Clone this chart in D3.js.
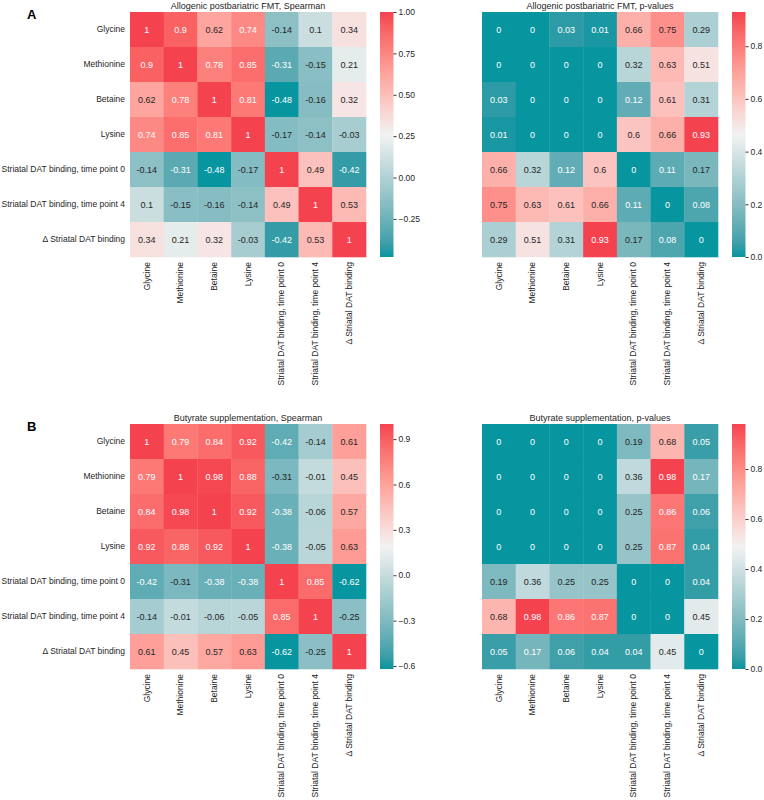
<!DOCTYPE html>
<html>
<head>
<meta charset="utf-8">
<script src="https://cdn.jsdelivr.net/npm/d3@7"></script>
<style>
  body { margin: 0; background: #fff; }
  text { font-family: "Liberation Sans", Arial, sans-serif; }
</style>
</head>
<body>
<div id="chart"></div>
<script>
// variable names, same order for rows and columns
const labels = [
  "Glycine", "Methionine", "Betaine", "Lysine",
  "Striatal DAT binding, time point 0",
  "Striatal DAT binding, time point 4",
  "\u0394 Striatal DAT binding"
];

// A: allogenic postbariatric FMT
const corrA = [
  [1, 0.9, 0.62, 0.74, -0.14, 0.1, 0.34],
  [0.9, 1, 0.78, 0.85, -0.31, -0.15, 0.21],
  [0.62, 0.78, 1, 0.81, -0.48, -0.16, 0.32],
  [0.74, 0.85, 0.81, 1, -0.17, -0.14, -0.03],
  [-0.14, -0.31, -0.48, -0.17, 1, 0.49, -0.42],
  [0.1, -0.15, -0.16, -0.14, 0.49, 1, 0.53],
  [0.34, 0.21, 0.32, -0.03, -0.42, 0.53, 1]
];
const pA = [
  [0, 0, 0.03, 0.01, 0.66, 0.75, 0.29],
  [0, 0, 0, 0, 0.32, 0.63, 0.51],
  [0.03, 0, 0, 0, 0.12, 0.61, 0.31],
  [0.01, 0, 0, 0, 0.6, 0.66, 0.93],
  [0.66, 0.32, 0.12, 0.6, 0, 0.11, 0.17],
  [0.75, 0.63, 0.61, 0.66, 0.11, 0, 0.08],
  [0.29, 0.51, 0.31, 0.93, 0.17, 0.08, 0]
];

// B: butyrate supplementation
const corrB = [
  [1, 0.79, 0.84, 0.92, -0.42, -0.14, 0.61],
  [0.79, 1, 0.98, 0.88, -0.31, -0.01, 0.45],
  [0.84, 0.98, 1, 0.92, -0.38, -0.06, 0.57],
  [0.92, 0.88, 0.92, 1, -0.38, -0.05, 0.63],
  [-0.42, -0.31, -0.38, -0.38, 1, 0.85, -0.62],
  [-0.14, -0.01, -0.06, -0.05, 0.85, 1, -0.25],
  [0.61, 0.45, 0.57, 0.63, -0.62, -0.25, 1]
];
const pB = [
  [0, 0, 0, 0, 0.19, 0.68, 0.05],
  [0, 0, 0, 0, 0.36, 0.98, 0.17],
  [0, 0, 0, 0, 0.25, 0.86, 0.06],
  [0, 0, 0, 0, 0.25, 0.87, 0.04],
  [0.19, 0.36, 0.25, 0.25, 0, 0, 0.04],
  [0.68, 0.98, 0.86, 0.87, 0, 0, 0.45],
  [0.05, 0.17, 0.06, 0.04, 0.04, 0.45, 0]
];

// colour bar ticks
const ticksCorrA = [-0.25, 0, 0.25, 0.5, 0.75, 1];
const ticksCorrB = [-0.6, -0.3, 0, 0.3, 0.6, 0.9];
const ticksP = [0, 0.2, 0.4, 0.6, 0.8];

const panels = [
  { letter: "A", title: "Allogenic postbariatric FMT, Spearman", data: corrA, ticks: ticksCorrA, fmt: ".2f", col: 0, row: 0 },
  { title: "Allogenic postbariatric FMT, p-values", data: pA, ticks: ticksP, fmt: ".1f", col: 1, row: 0 },
  { letter: "B", title: "Butyrate supplementation, Spearman", data: corrB, ticks: ticksCorrB, fmt: ".1f", col: 0, row: 1 },
  { title: "Butyrate supplementation, p-values", data: pB, ticks: ticksP, fmt: ".1f", col: 1, row: 1 }
];

const W = 764, H = 800;
const mapW = 236, mapH = 245;
const originX = [130, 482], originY = [12, 424];
const barGap = 14, barW = 13.5;

const teal = "#0795a0", mid = "#f2f2f2", red = "#f5424f";

const svg = d3.select("#chart").append("svg")
  .attr("width", W).attr("height", H);

// relative luminance, to pick the annotation colour
function luminance(c) {
  const rgb = d3.rgb(c);
  const lin = [rgb.r, rgb.g, rgb.b].map(v => {
    v /= 255;
    return v <= 0.03928 ? v / 12.92 : Math.pow((v + 0.055) / 1.055, 2.4);
  });
  return 0.2126 * lin[0] + 0.7152 * lin[1] + 0.0722 * lin[2];
}

panels.forEach((p, k) => {
  const x0 = originX[p.col], y0 = originY[p.row];
  const g = svg.append("g").attr("transform", `translate(${x0},${y0})`);

  const flat = p.data.flat();
  const vmin = d3.min(flat), vmax = d3.max(flat);
  const color = d3.scaleLinear()
    .domain([vmin, (vmin + vmax) / 2, vmax])
    .range([teal, mid, red])
    .interpolate(d3.interpolateLab);

  const x = d3.scaleBand().domain(labels).range([0, mapW]);
  const y = d3.scaleBand().domain(labels).range([0, mapH]);

  const cells = [];
  p.data.forEach((r, i) => r.forEach((v, j) => cells.push({ row: labels[i], col: labels[j], v })));

  g.selectAll("rect.cell").data(cells).join("rect")
    .attr("class", "cell")
    .attr("x", d => x(d.col))
    .attr("y", d => y(d.row))
    .attr("width", x.bandwidth() + 0.3)
    .attr("height", y.bandwidth() + 0.3)
    .attr("fill", d => color(d.v));

  g.selectAll("text.annot").data(cells).join("text")
    .attr("class", "annot")
    .attr("x", d => x(d.col) + x.bandwidth() / 2)
    .attr("y", d => y(d.row) + y.bandwidth() / 2)
    .attr("dy", "0.35em")
    .attr("text-anchor", "middle")
    .style("font-size", "9px")
    .attr("fill", d => luminance(color(d.v)) > 0.408 ? "#262626" : "#fff")
    .text(d => String(d.v));

  // row labels only on the left maps
  if (p.col === 0) {
    const ya = g.append("g").call(d3.axisLeft(y).tickSize(0).tickPadding(5));
    ya.select(".domain").remove();
    ya.selectAll("text").style("font-size", "8.5px").attr("fill", "#262626")
      .style("font-family", "'Liberation Sans', Arial, sans-serif");
  }

  const xa = g.append("g").attr("transform", `translate(0,${mapH})`)
    .call(d3.axisBottom(x).tickSize(0).tickPadding(5));
  xa.select(".domain").remove();
  xa.selectAll("text")
    .style("font-size", "8.5px").attr("fill", "#262626")
    .style("font-family", "'Liberation Sans', Arial, sans-serif")
    .attr("transform", "rotate(-90)")
    .attr("text-anchor", "end")
    .attr("x", -5).attr("y", 0).attr("dy", "0.32em");

  g.append("text")
    .attr("x", mapW / 2).attr("y", -3.5)
    .attr("text-anchor", "middle")
    .style("font-size", "9px").attr("fill", "#262626")
    .text(p.title);

  if (p.letter) {
    svg.append("text")
      .attr("x", 27).attr("y", y0 + 7)
      .style("font-size", "13px").style("font-weight", "bold")
      .attr("fill", "#000")
      .text(p.letter);
  }

  // colour bar
  const cb = g.append("g").attr("transform", `translate(${mapW + barGap},0)`);
  const cy = d3.scaleLinear().domain([vmin, vmax]).range([mapH, 0]);
  const gradId = "grad" + k;
  const grad = svg.append("defs").append("linearGradient")
    .attr("id", gradId).attr("x1", 0).attr("y1", 1).attr("x2", 0).attr("y2", 0);
  d3.range(0, 1.0001, 0.05).forEach(t => {
    grad.append("stop").attr("offset", t)
      .attr("stop-color", color(vmin + t * (vmax - vmin)));
  });
  cb.append("rect").attr("width", barW).attr("height", mapH)
    .attr("fill", `url(#${gradId})`);
  const ca = cb.append("g").attr("transform", `translate(${barW},0)`)
    .call(d3.axisRight(cy).tickValues(p.ticks).tickSize(3).tickPadding(2)
      .tickFormat(v => d3.format(p.fmt)(v).replace("-", "\u2212")));
  ca.select(".domain").remove();
  ca.selectAll("line").attr("stroke", "#333");
  ca.selectAll("text").style("font-size", "8.5px").attr("fill", "#262626")
    .style("font-family", "'Liberation Sans', Arial, sans-serif");
});
</script>
</body>
</html>
